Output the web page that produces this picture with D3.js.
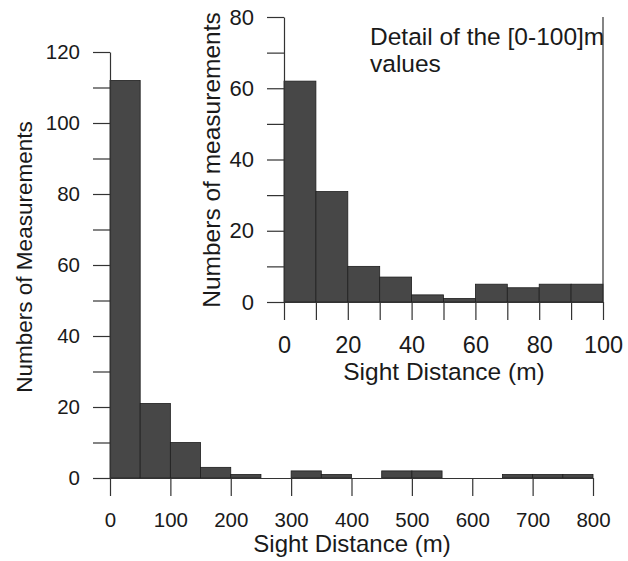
<!DOCTYPE html>
<html>
<head>
<meta charset="utf-8">
<script src="https://cdn.jsdelivr.net/npm/d3@7"></script>
<style>
  body { margin: 0; background: #fff; }
  text { font-family: "Liberation Sans", Arial, sans-serif; fill: #1a1a1a; }
</style>
</head>
<body>
<svg id="chart" width="628" height="561"></svg>
<script>
// main histogram: 50 m bins over 0-800 m
const mainBinStarts = [0, 50, 100, 150, 200, 250, 300, 350, 400, 450, 500, 550, 600, 650, 700, 750]
const mainCounts = [112, 21, 10, 3, 1, 0, 2, 1, 0, 2, 2, 0, 0, 1, 1, 1]
const mainXTicks = [0, 100, 200, 300, 400, 500, 600, 700, 800]
const mainYTicks = [0, 10, 20, 30, 40, 50, 60, 70, 80, 90, 100, 110, 120]

// inset: 10 m bins over 0-100 m
const detailBinStarts = [0, 10, 20, 30, 40, 50, 60, 70, 80, 90]
const detailCounts = [62, 31, 10, 7, 2, 1, 5, 4, 5, 5]
const detailXTicks = [0, 10, 20, 30, 40, 50, 60, 70, 80, 90, 100]
const detailYTicks = [0, 10, 20, 30, 40, 50, 60, 70, 80]

const svg = d3.select("#chart")
const barFill = "#474747", barLine = "#1e1e1e", axisCol = "#333"

function histogram(g, o) {
  const x = d3.scaleLinear().domain(o.xDomain).range([0, o.width])
  const y = d3.scaleLinear().domain(o.yDomain).range([o.height, 0])

  g.append("g")
    .selectAll("rect")
    .data(o.starts.map((s, i) => ({ s: s, e: s + o.binWidth, c: o.counts[i] })))
    .enter().append("rect")
      .attr("x", d => x(d.s))
      .attr("y", d => y(d.c))
      .attr("width", d => x(d.e) - x(d.s))
      .attr("height", d => y(0) - y(d.c))
      .attr("fill", barFill)
      .attr("stroke", barLine)
      .attr("stroke-width", 0.8)

  const xAxis = g.append("g")
    .attr("transform", "translate(0," + o.height + ")")
    .call(d3.axisBottom(x).tickValues(o.xTicks).tickSize(18).tickSizeOuter(0).tickPadding(16)
      .tickFormat(d => o.xLabel(d) ? d : ""))
  const yAxis = g.append("g")
    .call(d3.axisLeft(y).tickValues(o.yTicks).tickSize(17).tickSizeOuter(0).tickPadding(13)
      .tickFormat(d => d % 20 === 0 ? d : ""))

  for (const a of [xAxis, yAxis]) {
    a.selectAll("path, line").attr("stroke", axisCol).attr("stroke-width", 1.2)
    a.selectAll("text").attr("fill", "#1a1a1a")
      .style("font-family", "'Liberation Sans', Arial, sans-serif")
  }
  xAxis.selectAll("text").style("font-size", o.xFont)
  yAxis.selectAll("text").style("font-size", o.yFont)
  return { x: x, y: y }
}

// ---- main chart
const M = { left: 110, top: 52, width: 483, height: 426 }
const gMain = svg.append("g").attr("transform", `translate(${M.left},${M.top})`)
histogram(gMain, {
  xDomain: [0, 800], yDomain: [0, 120], width: M.width, height: M.height,
  starts: mainBinStarts, counts: mainCounts, binWidth: 50,
  xTicks: mainXTicks, yTicks: mainYTicks, xLabel: d => true,
  xFont: "20.5px", yFont: "20.5px"
})

svg.append("text")
  .attr("x", 352).attr("y", 552)
  .attr("text-anchor", "middle").style("font-size", "24px")
  .text("Sight Distance (m)")
svg.append("text")
  .attr("transform", "translate(32,257) rotate(-90)")
  .attr("text-anchor", "middle").style("font-size", "22.5px")
  .text("Numbers of Measurements")

// ---- inset
svg.append("rect").attr("x", 192).attr("y", 0).attr("width", 436).attr("height", 392).attr("fill", "#fff")

const D = { left: 284, top: 17, width: 319, height: 285 }
const gDet = svg.append("g").attr("transform", `translate(${D.left},${D.top})`)
const ds = histogram(gDet, {
  xDomain: [0, 100], yDomain: [0, 80], width: D.width, height: D.height,
  starts: detailBinStarts, counts: detailCounts, binWidth: 10,
  xTicks: detailXTicks, yTicks: detailYTicks, xLabel: d => d % 20 === 0,
  xFont: "23.5px", yFont: "22px"
})
gDet.append("line")
  .attr("x1", ds.x(100)).attr("x2", ds.x(100))
  .attr("y1", ds.y(80)).attr("y2", ds.y(0))
  .attr("stroke", axisCol).attr("stroke-width", 1.2)

svg.append("text")
  .attr("x", 444).attr("y", 380)
  .attr("text-anchor", "middle").style("font-size", "24.5px")
  .text("Sight Distance (m)")
svg.append("text")
  .attr("transform", "translate(220,160) rotate(-90)")
  .attr("text-anchor", "middle").style("font-size", "24.5px")
  .text("Numbers of measurements")

const note = svg.append("text").attr("x", 370).attr("y", 45).style("font-size", "24.5px")
note.append("tspan").attr("x", 370).text("Detail of the [0-100]m")
note.append("tspan").attr("x", 370).attr("dy", 27).text("values")
</script>
</body>
</html>
